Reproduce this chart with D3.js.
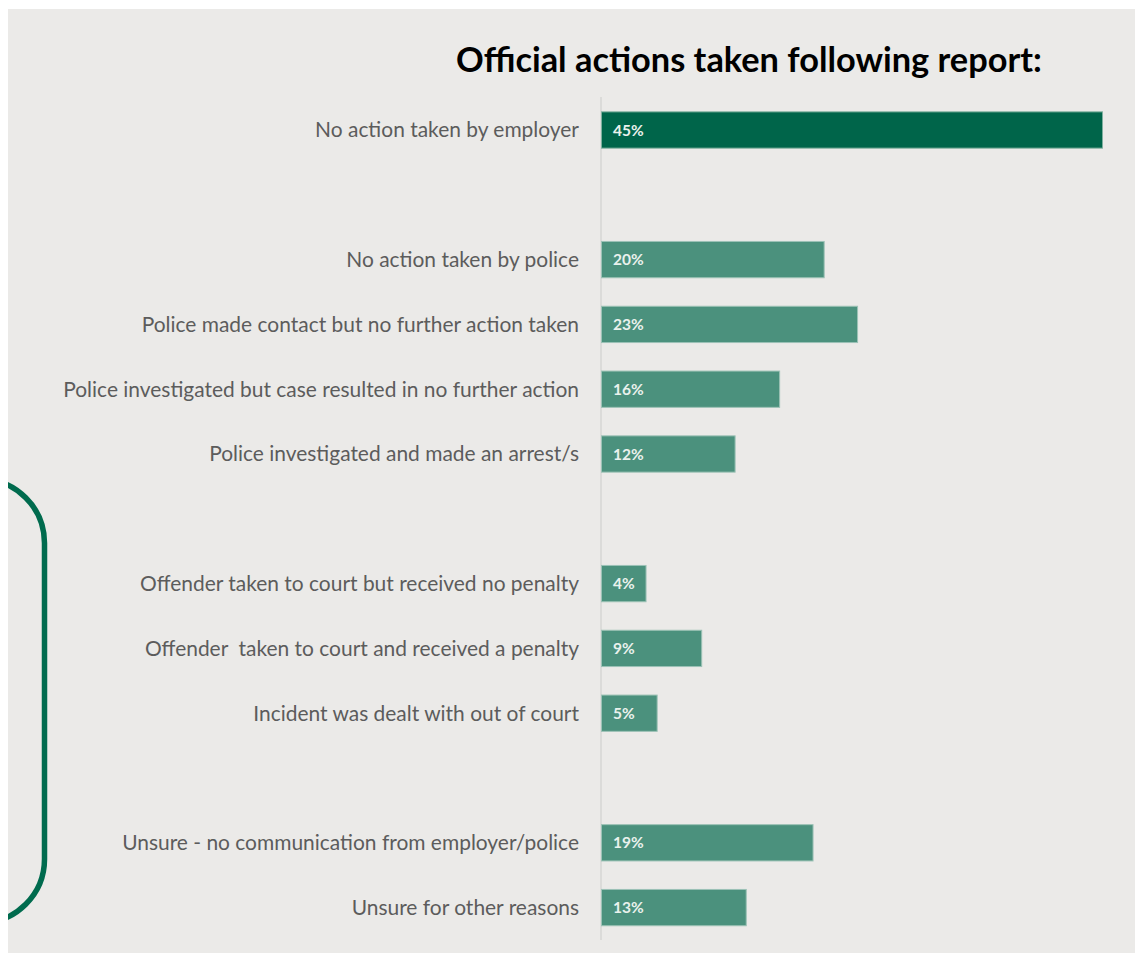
<!DOCTYPE html>
<html>
<head>
<meta charset="utf-8">
<script src="https://cdn.jsdelivr.net/npm/d3@7"></script>
<style>
  html, body { margin: 0; padding: 0; background: #ffffff; }
  svg { display: block; }
</style>
</head>
<body>
<svg id="chart" width="1135" height="953"></svg>
<script>
// Chart content
const title = "Official actions taken following report:";

// Rows from top to bottom; null entries are blank spacer rows between groups
const categories = [
  "No action taken by employer",
  null,
  "No action taken by police",
  "Police made contact but no further action taken",
  "Police investigated but case resulted in no further action",
  "Police investigated and made an arrest/s",
  null,
  "Offender taken to court but received no penalty",
  "Offender  taken to court and received a penalty",
  "Incident was dealt with out of court",
  null,
  "Unsure - no communication from employer/police",
  "Unsure for other reasons"
];
const values = [45, null, 20, 23, 16, 12, null, 4, 9, 5, null, 19, 13];
const valueLabels = ["45%", null, "20%", "23%", "16%", "12%", null, "4%", "9%", "5%", null, "19%", "13%"];

const svg = d3.select("#chart");
const W = 1135, H = 953;

// Grey panel
svg.append("rect")
  .attr("x", 8).attr("y", 9)
  .attr("width", W - 8).attr("height", H - 9)
  .attr("fill", "#ebeae8");

// Clip for decorative bracket so it stays inside the panel
svg.append("defs").append("clipPath").attr("id", "panelClip")
  .append("rect").attr("x", 8).attr("y", 9).attr("width", W - 8).attr("height", H - 9);

// Scales
const x = d3.scaleLinear().domain([0, 45]).range([601, 1102]);
const y = d3.scaleBand()
  .domain(d3.range(categories.length))
  .range([97.6, 940])
  .paddingInner(0.44)
  .paddingOuter(0.22);

const fontFamily = "Lato, 'Open Sans', 'DejaVu Sans', sans-serif";

// Title, sized to span its line
const titleText = svg.append("text")
  .attr("x", 749).attr("y", 72)
  .attr("text-anchor", "middle")
  .attr("font-family", fontFamily)
  .attr("font-weight", 700)
  .attr("font-size", 30)
  .attr("fill", "#000")
  .text(title);
{
  const w = titleText.node().getComputedTextLength();
  titleText.attr("font-size", 30 * 586 / w);
}

// Vertical axis line
svg.append("line")
  .attr("x1", x(0)).attr("x2", x(0))
  .attr("y1", 97).attr("y2", 940)
  .attr("stroke", "#d6d6d4")
  .attr("stroke-width", 1.5);

const rows = categories.map((c, i) => ({ i, c, v: values[i], lab: valueLabels[i] }))
  .filter(d => d.c !== null);

// Category labels (font size fitted to the longest label)
const catTexts = svg.append("g").selectAll("text").data(rows).join("text")
  .attr("x", x(0) - 22)
  .attr("y", d => y(d.i) + y.bandwidth() / 2)
  .attr("dy", "0.35em")
  .attr("text-anchor", "end")
  .attr("font-family", fontFamily)
  .attr("font-size", 20)
  .attr("fill", "#5c5c5c")
  .style("white-space", "pre")
  .text(d => d.c);
{
  const longest = d3.max(catTexts.nodes(), n => n.getComputedTextLength());
  catTexts.attr("font-size", 20 * 516 / longest);
}

// Bars
svg.append("g").selectAll("rect").data(rows).join("rect")
  .attr("x", x(0) + 0.5)
  .attr("y", d => y(d.i))
  .attr("width", d => x(d.v) - x(0))
  .attr("height", y.bandwidth())
  .attr("fill", d => d.i === 0 ? "#00654a" : "#4b917d")
  .attr("stroke", d => d.i === 0 ? "#7fb09f" : "#9cc2b6")
  .attr("stroke-width", 1);

// Value labels inside bars
svg.append("g").selectAll("text").data(rows).join("text")
  .attr("x", x(0) + 12)
  .attr("y", d => y(d.i) + y.bandwidth() / 2)
  .attr("dy", "0.36em")
  .attr("font-family", fontFamily)
  .attr("font-weight", 700)
  .attr("font-size", 15.5)
  .attr("fill", "#eaf1ed")
  .text(d => d.lab);

// Green bracket on the left edge
const bracketX = 44.5, bracketTop = 479, bracketBottom = 923, bracketR = 64;
const bracket = d3.path();
bracket.moveTo(-60, bracketTop);
bracket.lineTo(bracketX - bracketR, bracketTop);
bracket.arcTo(bracketX, bracketTop, bracketX, bracketTop + bracketR, bracketR);
bracket.lineTo(bracketX, bracketBottom - bracketR);
bracket.arcTo(bracketX, bracketBottom, bracketX - bracketR, bracketBottom, bracketR);
bracket.lineTo(-60, bracketBottom);
svg.append("path")
  .attr("clip-path", "url(#panelClip)")
  .attr("d", bracket.toString())
  .attr("fill", "none")
  .attr("stroke", "#006b4e")
  .attr("stroke-width", 5.5);
</script>
</body>
</html>
